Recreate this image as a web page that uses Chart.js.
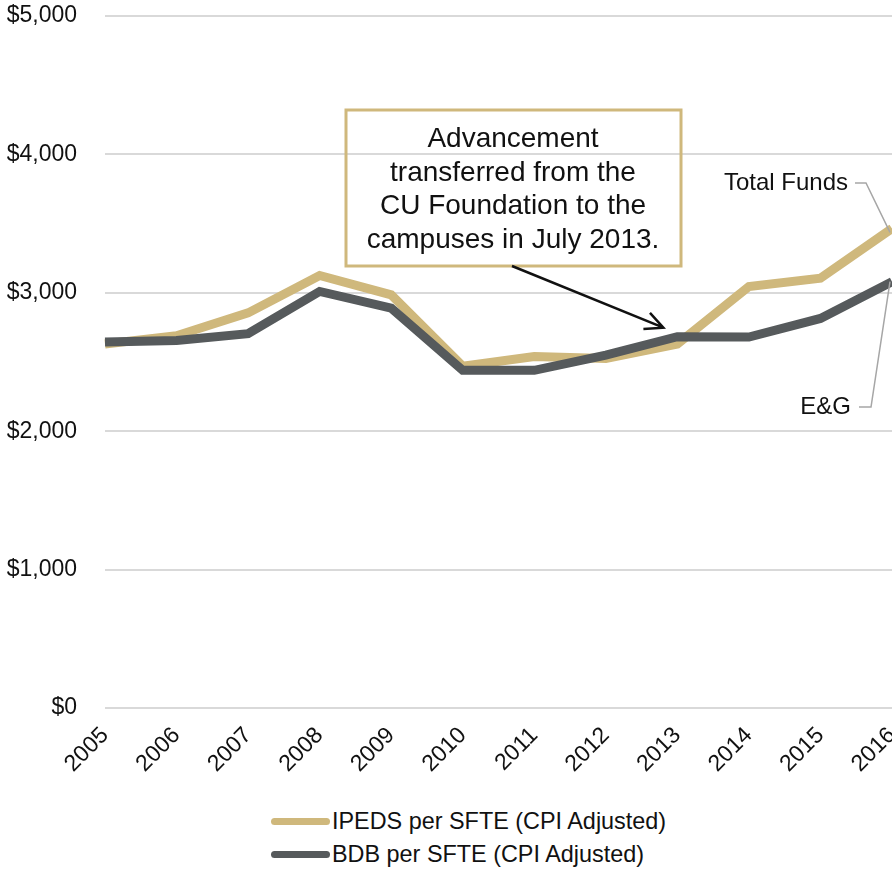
<!DOCTYPE html>
<html>
<head>
<meta charset="utf-8">
<script src="https://cdn.jsdelivr.net/npm/chart.js@4"></script>
<style>
  html, body { margin: 0; padding: 0; background: #fff; overflow: hidden; }
  body { width: 892px; height: 869px; position: relative; font-family: "Liberation Sans", Arial, sans-serif; }
  #wrap { position: absolute; left: 0; top: 0; width: 892px; height: 780px; }
  #legend { position: absolute; left: 271px; top: 805px; }
  .row { display: flex; align-items: center; height: 33px; font-size: 23.4px; color: #111; }
  .mark { width: 59px; height: 7px; border-radius: 4px; margin-right: 2px; }
</style>
</head>
<body>
<div id="wrap"><canvas id="chart" width="892" height="780"></canvas></div>
<div id="legend"></div>
<script>
// Chart data
const years = ["2005", "2006", "2007", "2008", "2009", "2010", "2011", "2012", "2013", "2014", "2015", "2016"];
const ipedsPerSfte = [2630, 2690, 2855, 3125, 2985, 2470, 2540, 2525, 2630, 3045, 3105, 3465];
const bdbPerSfte = [2645, 2655, 2705, 3010, 2890, 2440, 2440, 2550, 2683, 2680, 2815, 3080];
const yTicks = [0, 1000, 2000, 3000, 4000, 5000];

const GOLD = "#CFB87C";
const GREY = "#565A5C";
const FONT = '"Liberation Sans", Arial, sans-serif';

// Annotation box text
const noteLines = ["Advancement", "transferred from the", "CU Foundation to the", "campuses in July 2013."];

// Draws the callout box, arrow and the two series labels
const annotations = {
    id: "annotations",
    afterDatasetsDraw(chart) {
        const ctx = chart.ctx;
        const x = chart.scales.x;
        const y = chart.scales.y;
        ctx.save();

        // callout box
        ctx.strokeStyle = GOLD;
        ctx.lineWidth = 3;
        ctx.strokeRect(346, 110, 335, 156);
        ctx.fillStyle = "#111";
        ctx.font = "28px " + FONT;
        ctx.textAlign = "center";
        ctx.textBaseline = "alphabetic";
        noteLines.forEach((line, i) => ctx.fillText(line, 513, 147 + i * 33.5));

        // arrow pointing at 2013
        const tipX = x.getPixelForValue(8) - 14;
        const tipY = y.getPixelForValue(bdbPerSfte[8]) - 9;
        const sx = 512, sy = 266;
        ctx.strokeStyle = "#111";
        ctx.lineWidth = 2.5;
        ctx.beginPath();
        ctx.moveTo(sx, sy);
        ctx.lineTo(tipX, tipY);
        const ang = Math.atan2(tipY - sy, tipX - sx);
        const len = 20;
        ctx.moveTo(tipX - len * Math.cos(ang - 0.45), tipY - len * Math.sin(ang - 0.45));
        ctx.lineTo(tipX, tipY);
        ctx.lineTo(tipX - len * Math.cos(ang + 0.45), tipY - len * Math.sin(ang + 0.45));
        ctx.stroke();

        // series labels with leader lines
        const endX = x.getPixelForValue(11);
        const goldY = y.getPixelForValue(ipedsPerSfte[11]);
        const greyY = y.getPixelForValue(bdbPerSfte[11]);
        ctx.font = "24px " + FONT;
        ctx.textAlign = "right";
        ctx.textBaseline = "middle";
        ctx.fillText("Total Funds", 848, 183);
        ctx.fillText("E&G", 851, 407);

        ctx.strokeStyle = "#a6a6a6";
        ctx.lineWidth = 1.5;
        ctx.beginPath();
        ctx.moveTo(855, 183);
        ctx.lineTo(866, 183);
        ctx.lineTo(endX - 2, goldY + 4);
        ctx.moveTo(859, 407);
        ctx.lineTo(871, 407);
        ctx.lineTo(endX - 2, greyY);
        ctx.stroke();

        ctx.restore();
    }
};

const chart = new Chart(document.getElementById("chart"), {
    type: "line",
    data: {
        labels: years,
        datasets: [
            {
                label: "IPEDS per SFTE (CPI Adjusted)",
                data: ipedsPerSfte,
                borderColor: GOLD,
                backgroundColor: GOLD,
                borderWidth: 9,
                pointRadius: 0,
                tension: 0,
                order: 2
            },
            {
                label: "BDB per SFTE (CPI Adjusted)",
                data: bdbPerSfte,
                borderColor: GREY,
                backgroundColor: GREY,
                borderWidth: 9,
                pointRadius: 0,
                tension: 0,
                order: 1
            }
        ]
    },
    options: {
        responsive: false,
        animation: false,
        layout: { padding: { top: 16, right: 0, bottom: 0, left: 0 } },
        plugins: {
            legend: { display: false },
            tooltip: { enabled: false }
        },
        scales: {
            x: {
                grid: { display: false, drawTicks: false },
                border: { display: false },
                ticks: {
                    autoSkip: false,
                    minRotation: 45,
                    maxRotation: 45,
                    padding: 14,
                    color: "#111",
                    font: { family: FONT, size: 23 }
                },
                afterFit(scale) {
                    scale.height = 72;
                    scale.paddingLeft = 0;
                    scale.paddingRight = 0;
                }
            },
            y: {
                min: 0,
                max: 5000,
                afterBuildTicks(scale) {
                    scale.ticks = yTicks.map(v => ({ value: v }));
                },
                grid: { color: "#d9d9d9", lineWidth: 2, drawTicks: false },
                border: { display: false },
                ticks: {
                    padding: 28,
                    color: "#111",
                    font: { family: FONT, size: 23 },
                    callback: v => "$" + v.toLocaleString("en-US")
                },
                afterFit(scale) {
                    scale.width = 105;
                    scale.paddingTop = 0;
                    scale.paddingBottom = 0;
                }
            }
        }
    },
    plugins: [annotations]
});

// HTML legend built from the datasets
const legend = document.getElementById("legend");
chart.data.datasets.forEach(ds => {
    const row = document.createElement("div");
    row.className = "row";
    const mark = document.createElement("span");
    mark.className = "mark";
    mark.style.background = ds.borderColor;
    const text = document.createElement("span");
    text.textContent = ds.label;
    row.appendChild(mark);
    row.appendChild(text);
    legend.appendChild(row);
});
</script>
</body>
</html>
